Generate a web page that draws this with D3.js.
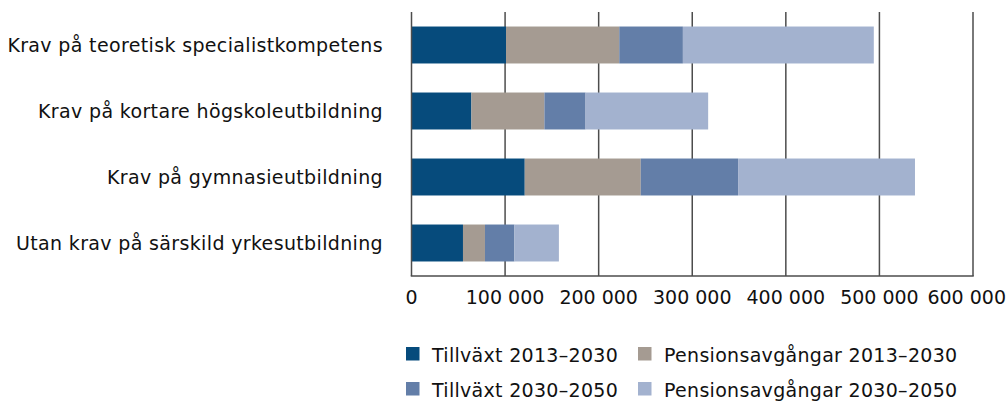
<!DOCTYPE html>
<html><head><meta charset="utf-8">
<script src="https://cdn.jsdelivr.net/npm/d3@7"></script>
<style>body{margin:0;background:#fff}svg{display:block}text{font-family:"DejaVu Sans",sans-serif;fill:#111}</style>
</head><body>
<svg id="c" width="1008" height="401"></svg>
<script>
const categories = ["Krav på teoretisk specialistkompetens","Krav på kortare högskoleutbildning","Krav på gymnasieutbildning","Utan krav på särskild yrkesutbildning"];
const seriesNames = ["Tillväxt 2013–2030","Pensionsavgångar 2013–2030","Tillväxt 2030–2050","Pensionsavgångar 2030–2050"];
const tillvaxt1 = [101000, 64000, 121000, 55000];
const pension1 = [121000, 78000, 124000, 23500];
const tillvaxt2 = [68000, 44000, 104000, 31500];
const pension2 = [204000, 131000, 189000, 47500];
const tickValues = [0,100000,200000,300000,400000,500000,600000];
const colors = ["#064b7c","#a59b92","#637ea8","#a3b2cf"];

const W = 1008;
const svg = d3.select("#c");
const x = d3.scaleLinear().domain([0,600000]).range([411.5,973]);
const y = d3.scaleBand().domain(categories).range([12,276]).paddingInner(0.44).paddingOuter(0.22);

const rows = categories.map((c,i)=>({cat:c, tillvaxt1:tillvaxt1[i], pension1:pension1[i], tillvaxt2:tillvaxt2[i], pension2:pension2[i]}));
const keys = ["tillvaxt1","pension1","tillvaxt2","pension2"];
const stack = d3.stack().keys(keys)(rows);

svg.append("g").selectAll("line").data(tickValues.slice(1)).join("line")
  .attr("x1",d=>x(d)).attr("x2",d=>x(d)).attr("y1",12).attr("y2",276)
  .attr("stroke","#4d4d4d").attr("stroke-width",1.5);

svg.append("g").selectAll("g").data(stack).join("g").attr("fill",(d,i)=>colors[i])
  .selectAll("rect").data(d=>d).join("rect")
  .attr("x",d=>x(d[0])).attr("width",d=>x(d[1])-x(d[0]))
  .attr("y",d=>y(d.data.cat)).attr("height",y.bandwidth());

svg.append("line").attr("x1",x(0)).attr("x2",x(0)).attr("y1",12).attr("y2",276).attr("stroke","#4d4d4d").attr("stroke-width",1.5);
svg.append("line").attr("x1",x(0)-0.75).attr("x2",x(600000)+0.75).attr("y1",276).attr("y2",276).attr("stroke","#4d4d4d").attr("stroke-width",1.5);

const fmt = v => d3.format(",")(v).replace(/,/g," ");
svg.append("g").selectAll("text").data(tickValues).join("text")
  .attr("x",d=>x(d)).attr("y",304).attr("text-anchor","middle").attr("font-size",19).text(fmt)
  .each(function(d){
    const w = this.getComputedTextLength();
    if (x(d) + w/2 > W - 2) d3.select(this).attr("text-anchor","end").attr("x", W - 2);
  });

svg.append("g").selectAll("text").data(categories).join("text")
  .attr("x",383).attr("y",d=>y(d)+y.bandwidth()/2).attr("dy","0.36em")
  .attr("text-anchor","end").attr("font-size",19).attr("letter-spacing",0.35).text(d=>d);

const legPos = [[406,347],[638,347],[406,382],[638,382]];
const lg = svg.append("g").selectAll("g").data(seriesNames).join("g")
  .attr("transform",(d,i)=>`translate(${legPos[i][0]},${legPos[i][1]})`);
lg.append("rect").attr("width",13.5).attr("height",13.5).attr("fill",(d,i)=>colors[i]);
lg.append("text").attr("x",26).attr("y",14.5).attr("font-size",19).attr("letter-spacing",0.3).text(d=>d);
</script>
</body></html>
